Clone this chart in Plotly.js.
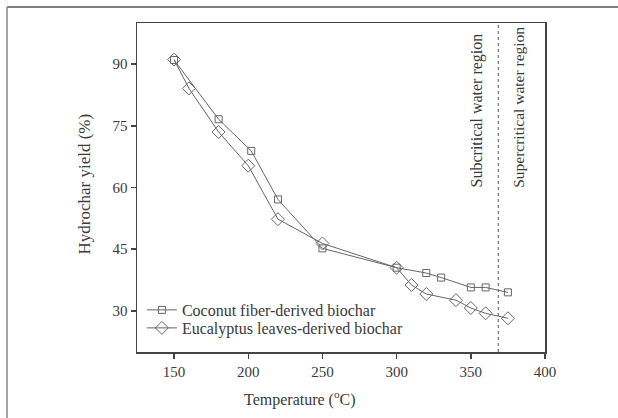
<!DOCTYPE html>
<html>
<head>
<meta charset="utf-8">
<script src="https://cdn.plot.ly/plotly-3.0.1.min.js"></script>
<style>
html,body{margin:0;padding:0;background:#fff;}
#chart{width:618px;height:418px;}
</style>
</head>
<body>
<div id="chart"></div>
<script>
// Data
var coconutTemp = [150, 180, 202, 220, 250, 300, 320, 330, 350, 360, 375];
var coconutYield = [91.0, 76.6, 68.9, 57.1, 45.2, 40.5, 39.2, 38.1, 35.7, 35.7, 34.5];
var eucalyptusTemp = [150, 160, 180, 200, 220, 250, 300, 310, 320, 340, 350, 360, 375];
var eucalyptusYield = [91.1, 84.1, 73.5, 65.3, 52.3, 46.4, 40.5, 36.3, 34.1, 32.6, 30.7, 29.4, 28.2];
var seriesNames = ["Coconut fiber-derived biochar", "Eucalyptus leaves-derived biochar"];
var xTicks = [150, 200, 250, 300, 350, 400];
var yTicks = [30, 45, 60, 75, 90];
var criticalTemp = 368.5;
var regionLabels = ["Subcritical water region", "Supercritical water region"];

var serif = "Liberation Serif, Times New Roman, serif";
var txt = "#3a3a3a";
var lineCol = "#666";
var axisCol = "#444";

var traces = [
  {
    x: coconutTemp, y: coconutYield, name: seriesNames[0], legend: "legend",
    mode: "lines+markers", type: "scatter",
    line: {color: lineCol, width: 1},
    marker: {symbol: "square-open", size: 7, color: lineCol, line: {width: 1, color: lineCol}}
  },
  {
    x: eucalyptusTemp, y: eucalyptusYield, name: seriesNames[1], legend: "legend2",
    mode: "lines+markers", type: "scatter",
    line: {color: lineCol, width: 1},
    marker: {symbol: "diamond-open", size: 10, color: lineCol, line: {width: 1, color: lineCol}}
  }
];

function legendBox(yc) {
  return {
    x: 0.012, y: yc, xanchor: "left", yanchor: "middle",
    bgcolor: "rgba(0,0,0,0)", borderwidth: 0,
    font: {family: serif, size: 16, color: txt}, itemwidth: 30
  };
}

var layout = {
  width: 618, height: 418,
  margin: {l: 137, r: 73, t: 23, b: 66, pad: 0},
  paper_bgcolor: "#fff", plot_bgcolor: "#fff",
  font: {family: serif, color: txt, size: 15},
  showlegend: true,
  legend: legendBox(0.1277),
  legend2: legendBox(0.073),
  xaxis: {
    range: [125, 400], tickvals: xTicks, ticktext: xTicks.map(String),
    ticks: "outside", ticklen: 5, tickwidth: 1.5, tickcolor: axisCol,
    showline: true, linecolor: axisCol, linewidth: 1.5, mirror: true,
    showgrid: false, zeroline: false,
    tickfont: {family: serif, size: 15, color: txt}
  },
  yaxis: {
    range: [20, 100], tickvals: yTicks, ticktext: yTicks.map(String),
    ticks: "outside", ticklen: 5, tickwidth: 1.5, tickcolor: axisCol,
    showline: true, linecolor: axisCol, linewidth: 1.5, mirror: true,
    showgrid: false, zeroline: false,
    tickfont: {family: serif, size: 15, color: txt}
  },
  shapes: [
    {type: "line", xref: "x", yref: "paper", x0: criticalTemp, x1: criticalTemp, y0: 0, y1: 1,
     line: {color: "#555", width: 1, dash: "dot"}},
    // outer frame (top and left edges of the figure)
    {type: "line", xref: "paper", yref: "paper", x0: -0.3186, x1: 1.2, y0: 1.0486, y1: 1.0486,
     line: {color: "#555", width: 1.5}},
    {type: "line", xref: "paper", yref: "paper", x0: -0.3186, x1: -0.3186, y0: -0.3, y1: 1.0486,
     line: {color: "#888", width: 1.5}}
  ],
  annotations: [
    {text: "Temperature (<sup>o</sup>C)", xref: "paper", yref: "paper", x: 0.3995, y: -0.14,
     xanchor: "center", yanchor: "middle", showarrow: false, font: {family: serif, size: 16, color: txt}},
    {text: "Hydrochar yield (%)", xref: "paper", yref: "paper", x: -0.1275, y: 0.512,
     xanchor: "center", yanchor: "middle", textangle: -90, showarrow: false,
     font: {family: serif, size: 17, color: txt}},
    {text: regionLabels[0], xref: "x", yref: "paper", x: 354.8, y: 0.494,
     xanchor: "center", yanchor: "bottom", textangle: -90, showarrow: false,
     font: {family: serif, size: 16, color: txt}},
    {text: regionLabels[1], xref: "x", yref: "paper", x: 382.4, y: 0.494,
     xanchor: "center", yanchor: "bottom", textangle: -90, showarrow: false,
     font: {family: serif, size: 15.5, color: txt}}
  ]
};

Plotly.newPlot("chart", traces, layout, {displayModeBar: false, staticPlot: true});
</script>
</body>
</html>
